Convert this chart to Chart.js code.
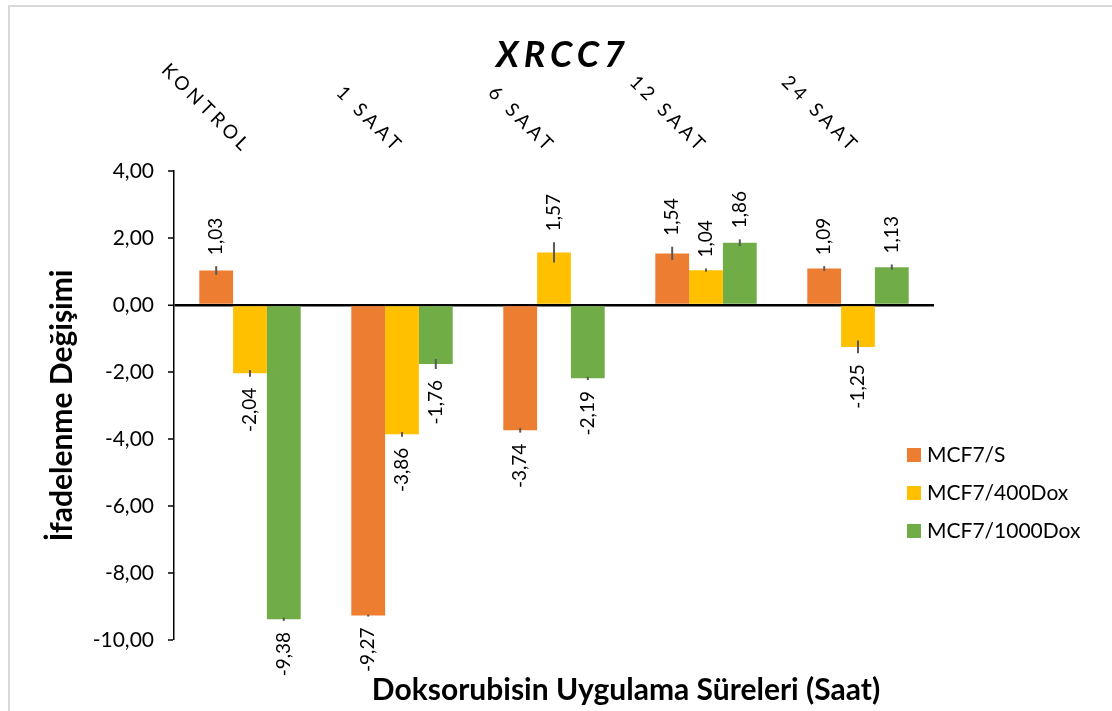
<!DOCTYPE html>
<html>
<head>
<meta charset="utf-8">
<script src="https://cdn.jsdelivr.net/npm/chart.js@4.4.1/dist/chart.umd.min.js"></script>
<style>
html,body{margin:0;padding:0;background:#fff;}
#wrap{position:relative;width:1112px;height:711px;}
</style>
</head>
<body>
<div id="wrap"><canvas id="c" width="1112" height="711"></canvas></div>
<script>
const categories = ['KONTROL', '1 SAAT', '6 SAAT', '12 SAAT', '24 SAAT'];
const seriesNames = ['MCF7/S', 'MCF7/400Dox', 'MCF7/1000Dox'];
const mcf7S = [1.03, -9.27, -3.74, 1.54, 1.09];
const mcf7Dox400 = [-2.04, -3.86, 1.57, 1.04, -1.25];
const mcf7Dox1000 = [-9.38, -1.76, -2.19, 1.86, 1.13];
const errS = [0.13, 0.03, 0.07, 0.20, 0.07];
const errDox400 = [0.10, 0.07, 0.30, 0.05, 0.19];
const errDox1000 = [0.05, 0.15, 0.05, 0.10, 0.08];
const yTicks = [4, 2, 0, -2, -4, -6, -8, -10];
const chartTitle = 'XRCC7';
const yTitle = 'İfadelenme Değişimi';
const xTitle = 'Doksorubisin Uygulama Süreleri (Saat)';

const colors = ['#ED7D31', '#FFC000', '#70AD47'];
const errors = [errS, errDox400, errDox1000];
const FONT = 'Lato, "Open Sans", sans-serif';
const fmt = v => v.toFixed(2).replace('.', ',');

const decor = {
  id: 'decor',
  beforeDraw(chart) {
    const ctx = chart.ctx;
    ctx.save();
    ctx.strokeStyle = '#d9d9d9';
    ctx.lineWidth = 2;
    ctx.beginPath();
    ctx.moveTo(9, 711);
    ctx.lineTo(9, 6);
    ctx.lineTo(1112, 6);
    ctx.stroke();
    ctx.restore();
  },
  afterDatasetsDraw(chart) {
    const ctx = chart.ctx;
    const y = chart.scales.y;
    const x = chart.scales.x;
    ctx.save();
    // error bars
    chart.data.datasets.forEach((ds, di) => {
      const meta = chart.getDatasetMeta(di);
      meta.data.forEach((bar, i) => {
        const v = ds.data[i], e = errors[di][i];
        const y1 = y.getPixelForValue(v + e), y2 = y.getPixelForValue(v - e);
        ctx.strokeStyle = '#595959';
        ctx.lineWidth = 2;
        ctx.beginPath();
        ctx.moveTo(bar.x, y1);
        ctx.lineTo(bar.x, y2);
        ctx.stroke();
      });
    });
    // value labels
    ctx.fillStyle = '#000';
    ctx.font = '19px ' + FONT;
    ctx.textBaseline = 'middle';
    chart.data.datasets.forEach((ds, di) => {
      const meta = chart.getDatasetMeta(di);
      meta.data.forEach((bar, i) => {
        const v = ds.data[i], e = errors[di][i];
        ctx.save();
        if (v >= 0) {
          ctx.translate(bar.x, y.getPixelForValue(v + e) - 11);
          ctx.rotate(-Math.PI / 2);
          ctx.textAlign = 'left';
        } else {
          ctx.translate(bar.x, y.getPixelForValue(v - e) + 11);
          ctx.rotate(-Math.PI / 2);
          ctx.textAlign = 'right';
        }
        ctx.fillText(fmt(v), 0, 0);
        ctx.restore();
      });
    });
    // category labels (rotated, top)
    ctx.font = '19px ' + FONT;
    ctx.letterSpacing = '4px';
    ctx.textAlign = 'right';
    ctx.textBaseline = 'middle';
    categories.forEach((c, i) => {
      const cx = x.getPixelForValue(i);
      ctx.save();
      ctx.translate(cx - 2, 150);
      ctx.rotate(Math.PI / 4);
      ctx.fillText(c, 0, 0);
      ctx.restore();
    });
    ctx.letterSpacing = '0px';
    // title
    ctx.font = 'italic bold 36px ' + FONT;
    ctx.letterSpacing = '5px';
    ctx.textAlign = 'center';
    ctx.fillText(chartTitle, 563, 55);
    ctx.letterSpacing = '0px';
    // x title
    ctx.font = 'bold 30px ' + FONT;
    ctx.fillText(xTitle, 626, 690);
    // legend
    ctx.font = '21px ' + FONT;
    ctx.textAlign = 'left';
    seriesNames.forEach((n, i) => {
      const ly = 455 + i * 38;
      ctx.fillStyle = colors[i];
      ctx.fillRect(907, ly - 7, 14, 14);
      ctx.fillStyle = '#000';
      ctx.fillText(n, 927, ly);
    });
    ctx.restore();
  }
};

new Chart(document.getElementById('c'), {
  type: 'bar',
  data: {
    labels: categories,
    datasets: [
      { label: seriesNames[0], data: mcf7S, backgroundColor: colors[0] },
      { label: seriesNames[1], data: mcf7Dox400, backgroundColor: colors[1] },
      { label: seriesNames[2], data: mcf7Dox1000, backgroundColor: colors[2] }
    ]
  },
  options: {
    responsive: false,
    animation: false,
    events: [],
    layout: { padding: { left: 0, top: 171, right: 178, bottom: 71 } },
    datasets: { bar: { categoryPercentage: 0.667, barPercentage: 1, borderWidth: 0 } },
    plugins: { legend: { display: false }, tooltip: { enabled: false } },
    scales: {
      x: { display: false, grid: { display: false } },
      y: {
        min: -10, max: 4,
        afterFit(s) { s.width = 174; },
        afterBuildTicks(s) { s.ticks = yTicks.map(v => ({ value: v })); },
        border: { display: true, color: '#000', width: 1.5 },
        grid: {
          drawOnChartArea: true,
          drawTicks: true,
          tickLength: 6,
          tickColor: '#000',
          tickWidth: 1.5,
          color: c => c.tick && c.tick.value === 0 ? '#000' : 'rgba(0,0,0,0)',
          lineWidth: c => c.tick && c.tick.value === 0 ? 2.5 : 0
        },
        ticks: {
          padding: 14,
          color: '#000',
          font: { family: FONT, size: 21 },
          callback: v => fmt(v)
        },
        title: {
          display: true,
          text: yTitle,
          color: '#000',
          font: { family: FONT, size: 30, weight: 'bold' },
          padding: { top: 44, bottom: 0 }
        }
      }
    }
  },
  plugins: [decor]
});
</script>
</body>
</html>
